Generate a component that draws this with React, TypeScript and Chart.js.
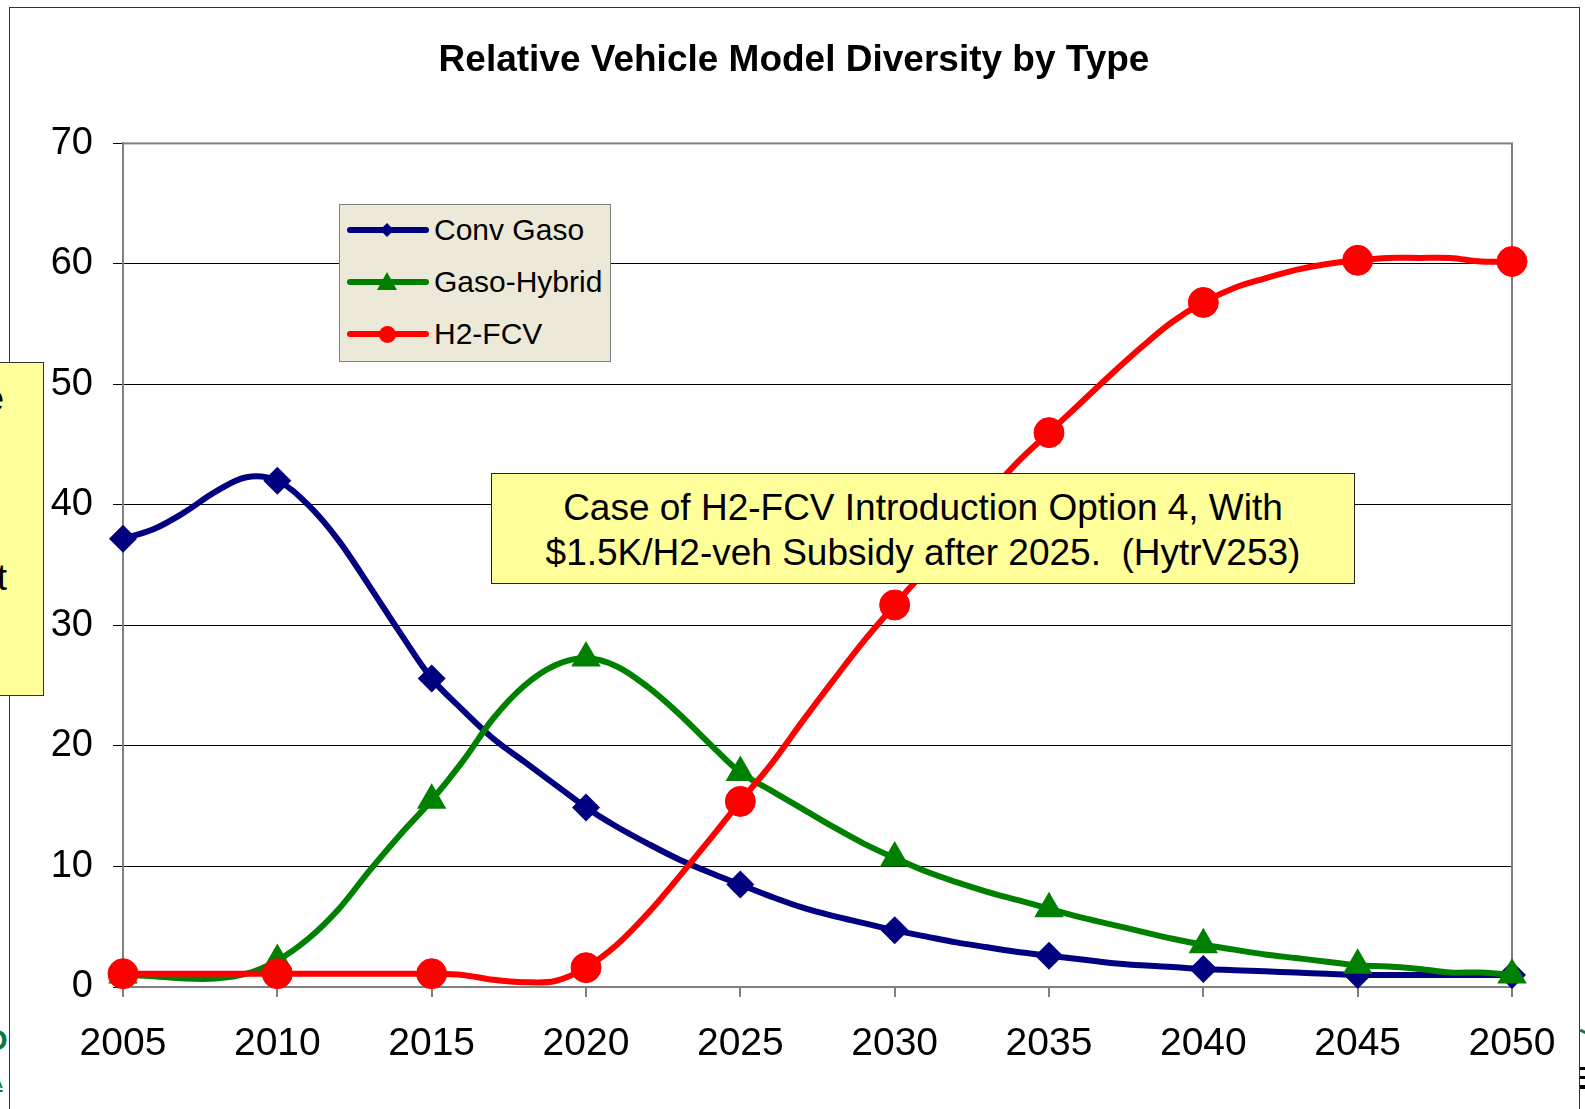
import React, { useEffect, useRef } from "react";
import { Chart, registerables } from "chart.js";

Chart.register(...registerables);

const years = [
  2005, 2006, 2007, 2008, 2009, 2010, 2011, 2012, 2013, 2014,
  2015, 2016, 2017, 2018, 2019, 2020, 2021, 2022, 2023, 2024,
  2025, 2026, 2027, 2028, 2029, 2030, 2031, 2032, 2033, 2034,
  2035, 2036, 2037, 2038, 2039, 2040, 2041, 2042, 2043, 2044,
  2045, 2046, 2047, 2048, 2049, 2050,
];

const convGaso = [
  37.2, 38.0, 39.4, 41.1, 42.3, 42.0, 40.0, 37.0, 33.2, 29.3,
  25.6, 23.0, 20.6, 18.7, 16.8, 14.9, 13.3, 11.9, 10.6, 9.5,
  8.5, 7.5, 6.6, 5.9, 5.3, 4.7, 4.2, 3.7, 3.3, 2.9,
  2.6, 2.3, 2.0, 1.8, 1.65, 1.5, 1.4, 1.3, 1.2, 1.1,
  1.0, 1.0, 1.0, 1.0, 1.0, 1.0,
];

const gasoHybrid = [
  1.0, 0.9, 0.7, 0.7, 1.1, 2.2, 4.0, 6.5, 9.7, 12.7,
  15.5, 18.7, 22.3, 25.0, 26.7, 27.3, 26.6, 24.9, 22.7, 20.2,
  17.8, 16.3, 14.8, 13.3, 11.9, 10.7, 9.6, 8.7, 7.9, 7.2,
  6.5, 5.8, 5.2, 4.6, 4.0, 3.5, 3.1, 2.7, 2.4, 2.1,
  1.8, 1.7, 1.5, 1.2, 1.2, 1.0,
];

const h2Fcv = [
  1.1, 1.1, 1.1, 1.1, 1.1, 1.1, 1.1, 1.1, 1.1, 1.1,
  1.1, 1.0, 0.6, 0.4, 0.5, 1.6, 3.5, 6.1, 9.1, 12.2,
  15.4, 18.5, 22.0, 25.4, 28.7, 31.7, 34.6, 37.7, 40.8, 43.6,
  46.0, 48.4, 50.8, 53.1, 55.2, 56.8, 58.0, 58.8, 59.5, 60.0,
  60.3, 60.5, 60.5, 60.5, 60.2, 60.2,
];

const seriesNames = ["Conv Gaso", "Gaso-Hybrid", "H2-FCV"];
const seriesColors = ["#000080", "#008000", "#FF0000"];
const titleText = "Relative Vehicle Model Diversity by Type";
const noteLines = [
  "Case of H2-FCV Introduction Option 4, With",
  "$1.5K/H2-veh Subsidy after 2025.  (HytrV253)",
];

const FONT = "'Liberation Sans', Arial, Helvetica, sans-serif";

const plotBorder = {
  id: "plotBorder",
  afterLayout(chart: any) {
    // let the y tick labels use the space to the left of the axis box
    const y = chart.scales.y;
    if (y) y.left = 0;
  },
  beforeDatasetsDraw(chart: any) {
    const { ctx, chartArea } = chart;
    ctx.save();
    ctx.strokeStyle = "#808080";
    ctx.lineWidth = 2;
    ctx.strokeRect(chartArea.left, chartArea.top, chartArea.right - chartArea.left, chartArea.bottom - chartArea.top);
    ctx.restore();
  },
};

const markerRadius = (r: number) => (c: any) => (years[c.dataIndex] % 5 === 0 ? r : 0);

export default function App() {
  const ref = useRef<HTMLCanvasElement | null>(null);

  useEffect(() => {
    if (!ref.current) return;
    Chart.defaults.font.family = FONT;
    const chart = new Chart(ref.current, {
      type: "line",
      data: {
        labels: years,
        datasets: [
          {
            label: seriesNames[0],
            data: convGaso,
            borderColor: seriesColors[0],
            backgroundColor: seriesColors[0],
            borderWidth: 6,
            pointStyle: "rectRot",
            pointRadius: markerRadius(14),
            pointBorderWidth: 0,
            tension: 0.35,
            clip: false,
            order: 2,
          },
          {
            label: seriesNames[1],
            data: gasoHybrid,
            borderColor: seriesColors[1],
            backgroundColor: seriesColors[1],
            borderWidth: 6,
            pointStyle: "triangle",
            pointRadius: markerRadius(17),
            pointBorderWidth: 0,
            tension: 0.35,
            clip: false,
            order: 1,
          },
          {
            label: seriesNames[2],
            data: h2Fcv,
            borderColor: seriesColors[2],
            backgroundColor: seriesColors[2],
            borderWidth: 6,
            pointStyle: "circle",
            pointRadius: markerRadius(15),
            pointBorderWidth: 1,
            tension: 0.35,
            clip: false,
            order: 0,
          },
        ],
      },
      options: {
        animation: false,
        responsive: true,
        maintainAspectRatio: false,
        layout: { padding: { left: 76, right: 73, top: 0, bottom: 0 } },
        plugins: {
          legend: { display: false },
          tooltip: { enabled: false },
          title: {
            display: true,
            text: titleText,
            color: "#000",
            font: { family: FONT, size: 37, weight: "bold" },
            padding: { top: 39, bottom: 60 },
          },
        },
        scales: {
          x: {
            type: "linear",
            min: 2005,
            max: 2050,
            afterFit: (s: any) => {
              s.height = 122;
            },
            ticks: {
              stepSize: 5,
              padding: 24,
              color: "#000",
              font: { family: FONT, size: 39 },
              maxRotation: 0,
              callback: (v: any) => String(v),
            },
            grid: {
              drawOnChartArea: false,
              drawTicks: true,
              tickLength: 10,
              color: "#808080",
              lineWidth: 2,
            },
            border: { display: true, color: "#808080", width: 2 },
          },
          y: {
            min: 0,
            max: 70,
            afterFit: (s: any) => {
              s.width = 47;
            },
            ticks: {
              stepSize: 10,
              padding: 20,
              color: "#000",
              font: { family: FONT, size: 38 },
            },
            grid: {
              color: "#000",
              lineWidth: 1,
              drawTicks: true,
              tickLength: 10,
              tickColor: "#000",
            },
            border: { display: true, color: "#808080", width: 2 },
          },
        },
      },
      plugins: [plotBorder],
    });
    return () => chart.destroy();
  }, []);

  const legendRows = [25, 77, 129];

  const marker = (i: number, top: number) => {
    const cx = 47;
    if (i === 0) {
      return (
        <div
          style={{
            position: "absolute",
            left: cx - 5,
            top: top - 5,
            width: 10,
            height: 10,
            background: seriesColors[0],
            transform: "rotate(45deg)",
          }}
        />
      );
    }
    if (i === 1) {
      return (
        <div
          style={{
            position: "absolute",
            left: cx - 10,
            top: top - 10,
            width: 0,
            height: 0,
            borderLeft: "10px solid transparent",
            borderRight: "10px solid transparent",
            borderBottom: `18px solid ${seriesColors[1]}`,
          }}
        />
      );
    }
    return (
      <div
        style={{
          position: "absolute",
          left: cx - 8.5,
          top: top - 8.5,
          width: 17,
          height: 17,
          borderRadius: "50%",
          background: seriesColors[2],
        }}
      />
    );
  };

  return (
    <div
      style={{
        position: "fixed",
        left: 0,
        top: 0,
        width: 1585,
        height: 1109,
        overflow: "hidden",
        background: "#fff",
        fontFamily: FONT,
      }}
    >
      {/* slide frame */}
      <div
        style={{
          position: "absolute",
          left: 9,
          top: 7,
          width: 1571,
          height: 1200,
          border: "1.5px solid #333",
          boxSizing: "border-box",
        }}
      />
      {/* slide fragments */}
      <span
        style={{
          position: "absolute",
          left: -14,
          top: 1022,
          fontSize: 30,
          fontWeight: "bold",
          color: "#0a7a45",
          lineHeight: "36px",
        }}
      >
        D
      </span>
      <span
        style={{
          position: "absolute",
          left: -12,
          top: 1068,
          fontSize: 22,
          color: "#0a7a45",
          textDecoration: "underline",
          lineHeight: "26px",
        }}
      >
        A
      </span>
      <div style={{ position: "absolute", left: 1580, top: 1030, width: 6, height: 3, background: "#0a7a45", transform: "rotate(25deg)" }} />
      <div style={{ position: "absolute", left: 1580, top: 1067, width: 6, height: 3, background: "#000" }} />
      <div style={{ position: "absolute", left: 1580, top: 1076, width: 6, height: 3, background: "#000" }} />
      <div style={{ position: "absolute", left: 1580, top: 1085, width: 6, height: 4, background: "#000" }} />

      <div style={{ position: "absolute", left: 0, top: 0, width: 1585, height: 1109 }}>
        <canvas ref={ref} />
      </div>

      {/* left yellow box (partially off-slide) */}
      <div
        style={{
          position: "absolute",
          left: -200,
          top: 362,
          width: 244,
          height: 334,
          background: "#FFFF99",
          border: "1.5px solid #333",
          boxSizing: "border-box",
          fontSize: 36,
          lineHeight: "44px",
          color: "#000",
        }}
      >
        <span style={{ position: "absolute", right: 39, top: 14 }}>e</span>
        <span style={{ position: "absolute", right: 36, top: 193 }}>t</span>
      </div>

      {/* legend */}
      <div
        style={{
          position: "absolute",
          left: 339,
          top: 204,
          width: 272,
          height: 158,
          background: "#ECE9D8",
          border: "1.5px solid #808080",
          boxSizing: "border-box",
        }}
      >
        {seriesNames.map((name, i) => (
          <React.Fragment key={name}>
            <div
              style={{
                position: "absolute",
                left: 7,
                top: legendRows[i] - 3,
                width: 82,
                height: 6,
                borderRadius: 3,
                background: seriesColors[i],
              }}
            />
            {marker(i, legendRows[i])}
            <div
              style={{
                position: "absolute",
                left: 94,
                top: legendRows[i] - 18,
                height: 36,
                lineHeight: "36px",
                fontSize: 30,
                color: "#000",
                whiteSpace: "nowrap",
              }}
            >
              {name}
            </div>
          </React.Fragment>
        ))}
      </div>

      {/* annotation */}
      <div
        style={{
          position: "absolute",
          left: 491,
          top: 473,
          width: 864,
          height: 111,
          background: "#FFFF99",
          border: "1.5px solid #222",
          boxSizing: "border-box",
          display: "flex",
          flexDirection: "column",
          justifyContent: "center",
          alignItems: "center",
          fontSize: 37,
          lineHeight: "45px",
          color: "#000",
          whiteSpace: "pre",
          paddingTop: 2,
        }}
      >
        {noteLines.map((l) => (
          <div key={l}>{l}</div>
        ))}
      </div>
    </div>
  );
}
